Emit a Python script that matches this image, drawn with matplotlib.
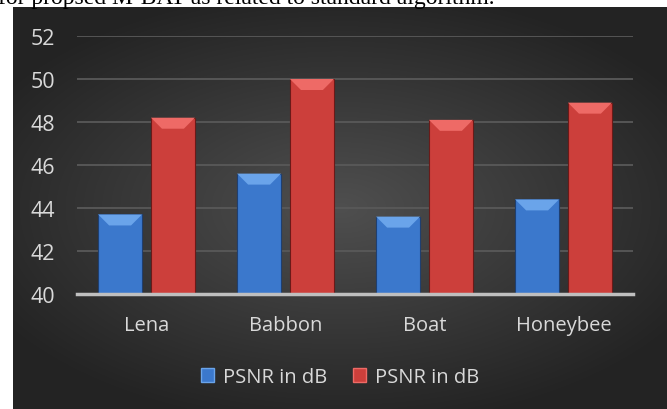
import numpy as np
import matplotlib.pyplot as plt
from matplotlib.patches import Polygon, Rectangle

# data
images = ["Lena", "Babbon", "Boat", "Honeybee"]
psnr_standard = [43.7, 45.6, 43.6, 44.4]
psnr_mbat = [48.2, 50.0, 48.1, 48.9]
series_labels = ["PSNR in dB", "PSNR in dB"]
yticks = [40, 42, 44, 46, 48, 50, 52]

W, H = 667, 410
fig = plt.figure(figsize=(W / 100, H / 100), dpi=100, facecolor="white")

# caption cut off at the top of the page
fig.text(-0.003, 1 - 4 / H, "for propsed M-BAT as related to standard algorithm.",
         family="Liberation Serif", fontsize=17, color="black", va="baseline")

# dark chart area with radial gradient
bg = fig.add_axes([13 / W, 0, (W - 13) / W, (H - 8) / H])
bg.set_axis_off()
yy, xx = np.mgrid[-1:1:200j, -1:1:300j]
r = np.sqrt((xx / 1.0) ** 2 + (yy / 0.9) ** 2)
shade = np.clip(0.31 - 0.14 * r, 0.14, 0.31)
bg.imshow(np.dstack([shade] * 3), aspect="auto", extent=[0, 1, 0, 1],
          interpolation="bicubic")
bg.set_xlim(0, 1)
bg.set_ylim(0, 1)

font = "Open Sans"
ax = fig.add_axes([77 / W, 115 / H, 556 / W, 258 / H])
ax.patch.set_alpha(0)
ax.set_xlim(-0.5, 3.5)
ax.set_ylim(40, 52)
ax.set_yticks(yticks)
ax.grid(axis="y", color="#595959", linewidth=1.3)
ax.set_axisbelow(True)
for s in ["top", "right", "left"]:
    ax.spines[s].set_visible(False)
ax.spines["bottom"].set_color("#bfbfbf")
ax.spines["bottom"].set_linewidth(2.5)
ax.tick_params(axis="both", length=0, colors="#d9d9d9")
ax.tick_params(axis="y", pad=16, labelsize=15.5)
ax.tick_params(axis="x", pad=15, labelsize=14.5)
for lab in ax.get_xticklabels() + ax.get_yticklabels():
    lab.set_family(font)

x = np.arange(len(images))
bw = 0.316
off = 0.19
blue = dict(body="#3b78cc", top="#6aa4ea", edge="#1f3f70")
red = dict(body="#cc3f3b", top="#ee6a66", edge="#6a1a18")

# pixel -> data scale for the bevel
px_x = 4 / 556
px_y = 12 / 258
bev = 11

def beveled(xs, vals, c, label):
    bars = ax.bar(xs, np.array(vals) - 40, bw, bottom=40, color=c["body"],
                  edgecolor=c["edge"], linewidth=0.8, label=label, zorder=2)
    for b in bars:
        x0, w = b.get_x(), b.get_width()
        top = b.get_y() + b.get_height()
        dx, dy = bev * px_x, bev * px_y
        ax.add_patch(Polygon([[x0, top], [x0 + w, top], [x0 + w - dx, top - dy],
                              [x0 + dx, top - dy]], closed=True,
                             facecolor=c["top"], edgecolor="none", zorder=3))
    return bars

beveled(x - off, psnr_standard, blue, series_labels[0])
beveled(x + off, psnr_mbat, red, series_labels[1])
ax.set_xticks(x)
ax.set_xticklabels(images)

handles = [Rectangle((0, 0), 1, 1, facecolor=blue["body"], edgecolor=blue["top"]),
           Rectangle((0, 0), 1, 1, facecolor=red["body"], edgecolor=red["top"])]
leg = fig.legend(handles, series_labels, loc="center", bbox_to_anchor=(340 / W, 1 - 378 / H),
                 ncol=2, frameon=False, handlelength=0.65, handleheight=0.65,
                 handletextpad=0.45, columnspacing=1.3,
                 prop=dict(family=font, size=14.5))
for t in leg.get_texts():
    t.set_color("#d9d9d9")

fig.savefig("out.png", dpi=100, facecolor="white")
